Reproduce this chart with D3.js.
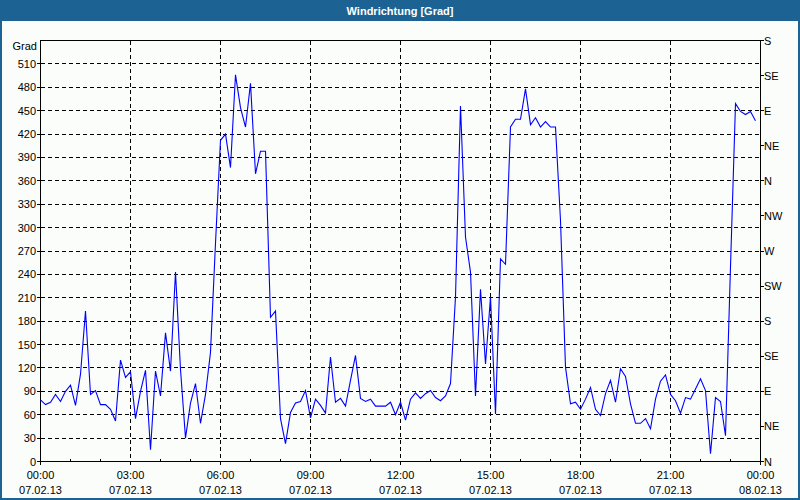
<!DOCTYPE html>
<html>
<head>
<meta charset="utf-8">
<script src="https://cdn.jsdelivr.net/npm/d3@7"></script>
<style>
  html, body { margin: 0; padding: 0; background: #fff; }
  svg { display: block; }
  text { font-family: "Liberation Sans", Arial, sans-serif; font-size: 11px; fill: #000; }
</style>
</head>
<body>
<svg id="chart" width="800" height="500"></svg>
<script>
// ---- data (10-minute samples, 07.02.13 00:00 .. 23:50) ----
const title = "Windrichtung [Grad]";
const unitLabel = "Grad";
const startTime = new Date(2013, 1, 7, 0, 0);
const endTime = new Date(2013, 1, 8, 0, 0);
const stepMinutes = 10;
const direction = [
  79, 73, 76, 86, 77, 90, 98, 72, 112, 193,
  86, 91, 73, 73, 67, 52, 130, 108, 115, 55,
  90, 117, 15, 116, 84, 165, 116, 243, 118, 30,
  75, 100, 49, 86, 140, 280, 412, 420, 377, 496,
  454, 429, 485, 369, 398, 398, 185, 193, 55, 23,
  63, 75, 77, 91, 56, 80, 72, 62, 134, 76,
  81, 71, 104, 136, 81, 77, 80, 71, 71, 71,
  76, 60, 76, 53, 80, 88, 81, 87, 91, 82,
  78, 84, 100, 211, 456, 288, 243, 84, 221, 125,
  211, 61, 260, 253, 429, 439, 439, 478, 432, 441,
  429, 436, 429, 429, 309, 121, 74, 76, 67, 80,
  95, 67, 59, 87, 104, 76, 119, 109, 74, 49,
  49, 55, 42, 80, 103, 111, 86, 78, 62, 82,
  80, 93, 106, 91, 10, 82, 77, 33, 250, 459,
  449, 445, 449, 437
];
const yTicks = [0, 30, 60, 90, 120, 150, 180, 210, 240, 270, 300, 330, 360, 390, 420, 450, 480, 510];
const yMax = 540;
const compassTicks = [0, 45, 90, 135, 180, 225, 270, 315, 360, 405, 450, 495, 540];
const compassLabels = ["N", "NE", "E", "SE", "S", "SW", "W", "NW", "N", "NE", "E", "SE", "S"];

(function () {
// ---- layout ----
const W = 800, H = 500;
const frameColor = "#1c6293";
const bg = "#fafdfa";
const pL = 40.5, pR = 760.5, pT = 40.5, pB = 461.5;

const svg = d3.select("#chart");

svg.append("rect").attr("x", 0).attr("y", 0).attr("width", W).attr("height", H).attr("fill", frameColor);
svg.append("rect").attr("x", 2).attr("y", 21).attr("width", W - 4).attr("height", H - 23).attr("fill", bg);

svg.append("text")
  .attr("x", W / 2).attr("y", 15)
  .attr("text-anchor", "middle")
  .style("font-weight", "bold")
  .style("fill", "#fff")
  .text(title);

const data = direction.map((v, i) => ({ t: new Date(startTime.getTime() + i * stepMinutes * 60000), v }));

const x = d3.scaleTime().domain([startTime, endTime]).range([pL, pR]);
const y = d3.scaleLinear().domain([0, yMax]).range([pB, pT]);
const yPix = d => Math.round(y(d) - 0.5) + 0.5;

const g = svg.append("g").attr("shape-rendering", "crispEdges");

// horizontal grid
g.selectAll(".hgrid").data(yTicks.filter(d => d > 0)).join("line")
  .attr("x1", pL).attr("x2", pR)
  .attr("y1", yPix).attr("y2", yPix)
  .attr("stroke", "#000").attr("stroke-dasharray", "4,3");

// vertical grid every 3 hours
const majorTimes = d3.timeHour.every(3).range(startTime, endTime);
g.selectAll(".vgrid").data(majorTimes.filter(d => d > startTime)).join("line")
  .attr("x1", d => x(d)).attr("x2", d => x(d))
  .attr("y1", pT).attr("y2", pB + 3)
  .attr("stroke", "#000").attr("stroke-dasharray", "4,3");

// minor hourly ticks (inward)
const minorTimes = d3.timeHour.every(1).range(startTime, endTime);
g.selectAll(".minor").data(minorTimes.filter(d => d.getHours() % 3 !== 0)).join("line")
  .attr("x1", d => x(d)).attr("x2", d => x(d))
  .attr("y1", pB).attr("y2", pB - 3)
  .attr("stroke", "#000");

// left ticks
g.selectAll(".lt").data(yTicks).join("line")
  .attr("x1", pL - 4).attr("x2", pL)
  .attr("y1", yPix).attr("y2", yPix)
  .attr("stroke", "#000");

// right ticks
g.selectAll(".rt").data(compassTicks).join("line")
  .attr("x1", pR).attr("x2", pR + 3)
  .attr("y1", yPix).attr("y2", yPix)
  .attr("stroke", "#000");

// frame
g.append("rect")
  .attr("x", pL).attr("y", pT)
  .attr("width", pR - pL).attr("height", pB - pT)
  .attr("fill", "none").attr("stroke", "#000");
g.append("line").attr("x1", pL).attr("x2", pL).attr("y1", pB).attr("y2", pB + 3).attr("stroke", "#000");
g.append("line").attr("x1", pR).attr("x2", pR).attr("y1", pB).attr("y2", pB + 3).attr("stroke", "#000");

// series
const line = d3.line().x(d => x(d.t)).y(d => y(d.v));
svg.append("path").datum(data)
  .attr("d", line)
  .attr("fill", "none")
  .attr("stroke", "#0000ff")
  .attr("stroke-width", 1.1);

// left labels
svg.selectAll(".yl").data(yTicks).join("text")
  .attr("x", 36).attr("y", d => y(d) + 4)
  .attr("text-anchor", "end")
  .text(d => d);
svg.append("text").attr("x", 37).attr("y", 50).attr("text-anchor", "end").text(unitLabel);

// right labels
svg.selectAll(".rl").data(compassTicks).join("text")
  .attr("x", 764).attr("y", d => y(d) + 4)
  .attr("text-anchor", "start")
  .text((d, i) => compassLabels[i]);

// bottom labels
const labelTimes = d3.timeHour.every(3).range(startTime, d3.timeMinute.offset(endTime, 1));
const fmtTime = d3.timeFormat("%H:%M");
const fmtDate = d3.timeFormat("%d.%m.%y");
const bl = svg.selectAll(".bl").data(labelTimes).join("g");
bl.append("text").attr("x", d => x(d)).attr("y", 479).attr("text-anchor", "middle").text(d => fmtTime(d));
bl.append("text").attr("x", d => x(d)).attr("y", 494).attr("text-anchor", "middle").text(d => fmtDate(d));
})();
</script>
</body>
</html>
